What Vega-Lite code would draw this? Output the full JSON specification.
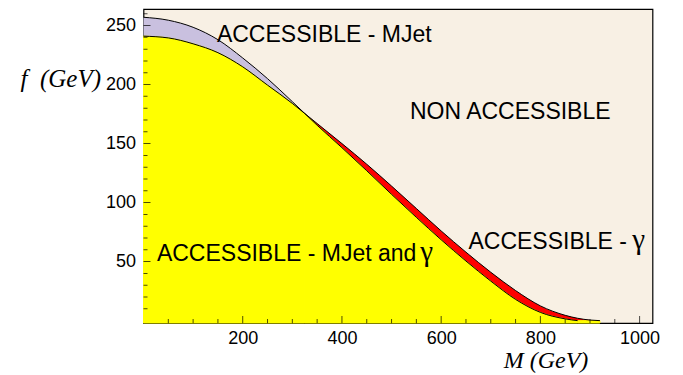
{
  "$schema": "https://vega.github.io/schema/vega-lite/v6.json",
  "width": 509,
  "height": 314,
  "autosize": {"type": "none"},
  "padding": {"left": 143.5, "top": 9, "right": 30.5, "bottom": 52},
  "background": "white",
  "config": {
    "view": {"fill": "#F8F0E4", "stroke": "black", "strokeWidth": 1.2},
    "font": "Liberation Sans"
  },
  "datasets": {
    "curves": [
      {"M": 0, "mjet": 257, "gamma": 241},
      {"M": 50, "mjet": 254.5, "gamma": 239.5},
      {"M": 100, "mjet": 248.5, "gamma": 234.5},
      {"M": 150, "mjet": 238, "gamma": 227},
      {"M": 200, "mjet": 222.5, "gamma": 215},
      {"M": 250, "mjet": 205, "gamma": 199.5},
      {"M": 300, "mjet": 185.5, "gamma": 184},
      {"M": 325, "mjet": 175.5, "gamma": 175.5},
      {"M": 350, "mjet": 165.5, "gamma": 167},
      {"M": 400, "mjet": 146.5, "gamma": 150},
      {"M": 450, "mjet": 127, "gamma": 132.5},
      {"M": 500, "mjet": 107, "gamma": 114},
      {"M": 550, "mjet": 87.5, "gamma": 95},
      {"M": 600, "mjet": 68.5, "gamma": 76},
      {"M": 650, "mjet": 50.5, "gamma": 58},
      {"M": 700, "mjet": 33.5, "gamma": 41},
      {"M": 750, "mjet": 18, "gamma": 25.5},
      {"M": 800, "mjet": 7, "gamma": 12.5},
      {"M": 850, "mjet": 1.5, "gamma": 4.5},
      {"M": 875, "mjet": 0, "gamma": 2},
      {"M": 900, "mjet": 0, "gamma": 0.5},
      {"M": 920, "mjet": 0, "gamma": 0}
    ],
    "labels": [
      {"M": 148, "f": 236, "text": "ACCESSIBLE - MJet"},
      {"M": 537, "f": 170.5, "text": "NON ACCESSIBLE"},
      {"M": 655, "f": 60.5, "text": "ACCESSIBLE - "},
      {"M": 27, "f": 50.5, "text": "ACCESSIBLE - MJet and"}
    ],
    "gammas": [
      {"M": 985, "f": 60.5, "text": "γ"},
      {"M": 558, "f": 50.5, "text": "γ"}
    ],
    "xmajor": [{"v": 200}, {"v": 400}, {"v": 600}, {"v": 800}, {"v": 1000}],
    "xminor": [
      {"v": 50}, {"v": 100}, {"v": 150}, {"v": 250}, {"v": 300}, {"v": 350},
      {"v": 450}, {"v": 500}, {"v": 550}, {"v": 650}, {"v": 700}, {"v": 750},
      {"v": 850}, {"v": 900}, {"v": 950}
    ],
    "ymajor": [{"v": 50}, {"v": 100}, {"v": 150}, {"v": 200}, {"v": 250}],
    "yminor": [
      {"v": 10}, {"v": 20}, {"v": 30}, {"v": 40}, {"v": 60}, {"v": 70}, {"v": 80}, {"v": 90},
      {"v": 110}, {"v": 120}, {"v": 130}, {"v": 140}, {"v": 160}, {"v": 170}, {"v": 180}, {"v": 190},
      {"v": 210}, {"v": 220}, {"v": 230}, {"v": 240}, {"v": 260}
    ]
  },
  "layer": [
    {
      "data": {"name": "curves"},
      "transform": [{"filter": "datum.M <= 325"}],
      "mark": {"type": "area", "color": "#C9C0DF", "interpolate": "monotone"},
      "encoding": {
        "x": {
          "field": "M", "type": "quantitative",
          "scale": {"domain": [0, 1026], "nice": false, "zero": false},
          "axis": {
            "values": [200, 400, 600, 800, 1000],
            "format": "d",
            "ticks": false,
            "domain": false,
            "grid": false,
            "labelOverlap": false,
            "labelFlush": false,
            "labelFontSize": 18,
            "labelFont": "Liberation Sans",
            "labelColor": "black",
            "labelPadding": 6,
            "title": "M (GeV)",
            "titleFont": "Liberation Serif",
            "titleFontStyle": "italic",
            "titleFontWeight": "normal",
            "titleFontSize": 24,
            "titleColor": "black",
            "titleX": 402,
            "titleY": 44,
            "titleAlign": "center",
            "titleBaseline": "alphabetic"
          }
        },
        "y": {
          "field": "mjet", "type": "quantitative",
          "scale": {"domain": [-2, 264], "nice": false, "zero": false},
          "axis": {
            "values": [50, 100, 150, 200, 250],
            "format": "d",
            "ticks": false,
            "domain": false,
            "grid": false,
            "labelOverlap": false,
            "labelFlush": false,
            "labelFontSize": 18,
            "labelFont": "Liberation Sans",
            "labelColor": "black",
            "labelPadding": 8,
            "title": "f\u00a0\u00a0(GeV)",
            "titleFont": "Liberation Serif",
            "titleFontStyle": "italic",
            "titleFontWeight": "normal",
            "titleFontSize": 25,
            "titleColor": "black",
            "titleAngle": 0,
            "titleX": -43,
            "titleY": 77,
            "titleAlign": "right",
            "titleBaseline": "alphabetic"
          }
        },
        "y2": {"field": "gamma"}
      }
    },
    {
      "data": {"name": "curves"},
      "transform": [{"filter": "datum.M >= 325"}],
      "mark": {"type": "area", "color": "#FF0000", "interpolate": "monotone"},
      "encoding": {
        "x": {"field": "M", "type": "quantitative"},
        "y": {"field": "gamma", "type": "quantitative"},
        "y2": {"datum": -2}
      }
    },
    {
      "data": {"name": "curves"},
      "transform": [{"filter": "datum.M <= 325"}],
      "mark": {"type": "area", "color": "#FFFF00", "stroke": "#FFFF00", "strokeWidth": 1, "interpolate": "monotone"},
      "encoding": {
        "x": {"field": "M", "type": "quantitative"},
        "y": {"field": "gamma", "type": "quantitative"},
        "y2": {"datum": -2}
      }
    },
    {
      "data": {"name": "curves"},
      "transform": [{"filter": "datum.M >= 325"}],
      "mark": {"type": "area", "color": "#FFFF00", "stroke": "#FFFF00", "strokeWidth": 1, "interpolate": "monotone"},
      "encoding": {
        "x": {"field": "M", "type": "quantitative"},
        "y": {"field": "mjet", "type": "quantitative"},
        "y2": {"datum": -2}
      }
    },
    {
      "data": {"name": "curves"},
      "transform": [{"filter": "datum.M <= 875"}],
      "mark": {"type": "line", "color": "black", "strokeWidth": 1, "interpolate": "monotone"},
      "encoding": {
        "x": {"field": "M", "type": "quantitative"},
        "y": {"field": "mjet", "type": "quantitative"}
      }
    },
    {
      "data": {"name": "curves"},
      "mark": {"type": "line", "color": "black", "strokeWidth": 1, "interpolate": "monotone"},
      "encoding": {
        "x": {"field": "M", "type": "quantitative"},
        "y": {"field": "gamma", "type": "quantitative"}
      }
    },
    {
      "data": {"name": "xmajor"},
      "mark": {"type": "tick", "orient": "vertical", "color": "black", "size": 14, "thickness": 1, "clip": true},
      "encoding": {
        "x": {"field": "v", "type": "quantitative"},
        "y": {"datum": -2}
      }
    },
    {
      "data": {"name": "xminor"},
      "mark": {"type": "tick", "orient": "vertical", "color": "black", "size": 8, "thickness": 1, "clip": true},
      "encoding": {
        "x": {"field": "v", "type": "quantitative"},
        "y": {"datum": -2}
      }
    },
    {
      "data": {"name": "ymajor"},
      "mark": {"type": "tick", "orient": "horizontal", "color": "black", "size": 14, "thickness": 1, "clip": true},
      "encoding": {
        "y": {"field": "v", "type": "quantitative"},
        "x": {"datum": 0}
      }
    },
    {
      "data": {"name": "yminor"},
      "mark": {"type": "tick", "orient": "horizontal", "color": "black", "size": 8, "thickness": 1, "clip": true},
      "encoding": {
        "y": {"field": "v", "type": "quantitative"},
        "x": {"datum": 0}
      }
    },
    {
      "data": {"name": "labels"},
      "mark": {"type": "text", "align": "left", "baseline": "alphabetic", "fontSize": 23, "font": "Liberation Sans", "color": "black"},
      "encoding": {
        "x": {"field": "M", "type": "quantitative"},
        "y": {"field": "f", "type": "quantitative"},
        "text": {"field": "text"}
      }
    },
    {
      "data": {"name": "gammas"},
      "mark": {"type": "text", "align": "left", "baseline": "alphabetic", "fontSize": 29, "font": "Liberation Serif", "color": "black"},
      "encoding": {
        "x": {"field": "M", "type": "quantitative"},
        "y": {"field": "f", "type": "quantitative"},
        "text": {"field": "text"}
      }
    }
  ]
}
